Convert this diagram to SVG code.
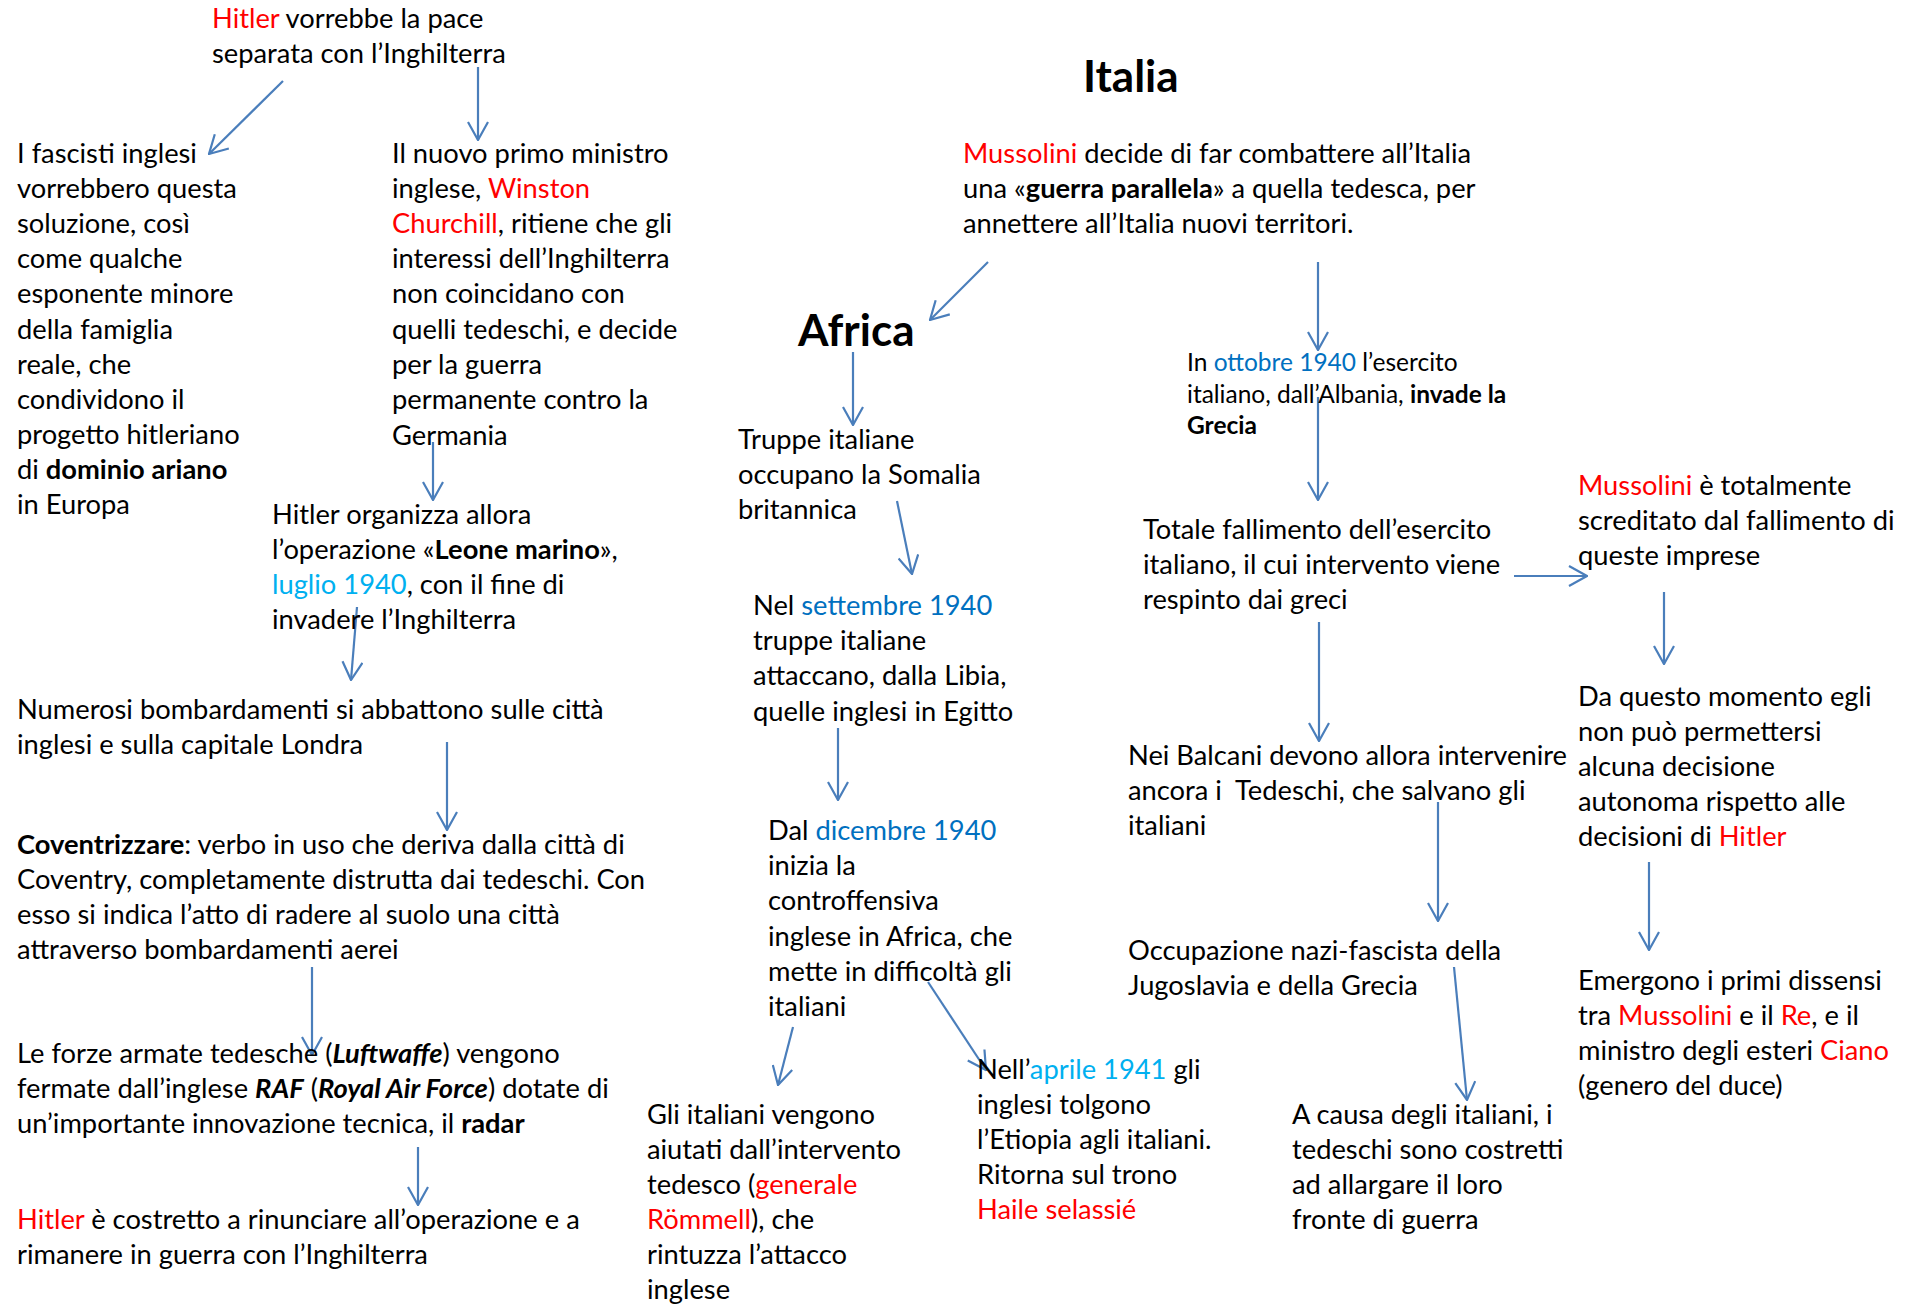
<svg xmlns="http://www.w3.org/2000/svg" width="1915" height="1304" viewBox="0 0 1915 1304">
<style>
text{font-family:Lato,"Liberation Sans",sans-serif;font-size:27.3px;fill:#000}
.s{font-size:24.5px}
.h{font-weight:bold;font-size:44px}
.r{fill:#FF0000}
.d1{fill:#0070C0}
.d2{fill:#00B0F0}
.b{font-weight:bold}
.bi{font-weight:bold;font-style:italic}
.c{stroke:#4A7EBB;stroke-width:2.2;fill:none;marker-end:url(#ah)}
</style>
<defs>
<marker id="ah" markerUnits="userSpaceOnUse" viewBox="0 0 20 22" refX="19" refY="11" markerWidth="20" markerHeight="22" orient="auto">
<path d="M1,1 L19,11 L1,21" fill="none" stroke="#4A7EBB" stroke-width="2.2"/>
</marker>
</defs>
<rect width="1915" height="1304" fill="#fff"/>
<g id="connectors">
<path class="c" d="M283,81 L209,154"/>
<path class="c" d="M478,67 L478,140"/>
<path class="c" d="M433,442 L433,500"/>
<path class="c" d="M357,607 L351,680"/>
<path class="c" d="M447,742 L447,830"/>
<path class="c" d="M312,967 L312,1055"/>
<path class="c" d="M418,1147 L418,1205"/>
<path class="c" d="M988,262 L930,320"/>
<path class="c" d="M1318,262 L1318,350"/>
<path class="c" d="M853,352 L853,425"/>
<path class="c" d="M1318,397 L1318,500"/>
<path class="c" d="M897,501 L912,574"/>
<path class="c" d="M838,728 L838,800"/>
<path class="c" d="M1319,622 L1319,741"/>
<path class="c" d="M1514,576 L1587,576"/>
<path class="c" d="M1664,592 L1664,664"/>
<path class="c" d="M1649,862 L1649,950"/>
<path class="c" d="M1438,802 L1438,921"/>
<path class="c" d="M1454,967 L1467,1100"/>
<path class="c" d="M793,1027 L778,1085"/>
<path class="c" d="M928,982 L986,1070"/>
</g>
<g id="n-hitler-pace">
<text x="212" y="28"><tspan class="r">Hitler</tspan> vorrebbe la pace</text>
<text x="212" y="63">separata con l’Inghilterra</text>
</g>
<g id="n-fascisti">
<text x="17" y="163">I fascisti inglesi</text>
<text x="17" y="198">vorrebbero questa</text>
<text x="17" y="233">soluzione, così</text>
<text x="17" y="268">come qualche</text>
<text x="17" y="303">esponente minore</text>
<text x="17" y="339">della famiglia</text>
<text x="17" y="374">reale, che</text>
<text x="17" y="409">condividono il</text>
<text x="17" y="444">progetto hitleriano</text>
<text x="17" y="479">di <tspan class="b">dominio ariano</tspan></text>
<text x="17" y="514">in Europa</text>
</g>
<g id="n-churchill">
<text x="392" y="163">Il nuovo primo ministro</text>
<text x="392" y="198">inglese, <tspan class="r">Winston</tspan></text>
<text x="392" y="233"><tspan class="r">Churchill</tspan>, ritiene che gli</text>
<text x="392" y="268">interessi dell’Inghilterra</text>
<text x="392" y="303">non coincidano con</text>
<text x="392" y="339">quelli tedeschi, e decide</text>
<text x="392" y="374">per la guerra</text>
<text x="392" y="409">permanente contro la</text>
<text x="392" y="445">Germania</text>
</g>
<g id="n-leone">
<text x="272" y="524">Hitler organizza allora</text>
<text x="272" y="559">l’operazione «<tspan class="b">Leone marino</tspan>»,</text>
<text x="272" y="594"><tspan class="d2">luglio 1940</tspan>, con il fine di</text>
<text x="272" y="629">invadere l’Inghilterra</text>
</g>
<g id="n-bombardamenti">
<text x="17" y="719">Numerosi bombardamenti si abbattono sulle città</text>
<text x="17" y="754">inglesi e sulla capitale Londra</text>
</g>
<g id="n-coventrizzare">
<text x="17" y="854"><tspan class="b">Coventrizzare</tspan>: verbo in uso che deriva dalla città di</text>
<text x="17" y="889">Coventry, completamente distrutta dai tedeschi. Con</text>
<text x="17" y="924">esso si indica l’atto di radere al suolo una città</text>
<text x="17" y="959">attraverso bombardamenti aerei</text>
</g>
<g id="n-raf">
<text x="17" y="1063">Le forze armate tedesche (<tspan class="bi">Luftwaffe</tspan>) vengono</text>
<text x="17" y="1098">fermate dall’inglese <tspan class="bi">RAF</tspan> (<tspan class="bi">Royal Air Force</tspan>) dotate di</text>
<text x="17" y="1133">un’importante innovazione tecnica, il <tspan class="b">radar</tspan></text>
</g>
<g id="n-rinuncia">
<text x="17" y="1229"><tspan class="r">Hitler</tspan> è costretto a rinunciare all’operazione e a</text>
<text x="17" y="1264">rimanere in guerra con l’Inghilterra</text>
</g>
<g id="n-italia">
<text class="h" x="1083" y="92">Italia</text>
</g>
<g id="n-mussolini">
<text x="963" y="163"><tspan class="r">Mussolini</tspan> decide di far combattere all’Italia</text>
<text x="963" y="198">una «<tspan class="b">guerra parallela</tspan>» a quella tedesca, per</text>
<text x="963" y="233">annettere all’Italia nuovi territori.</text>
</g>
<g id="n-africa">
<text class="h" x="798" y="346">Africa</text>
</g>
<g id="n-somalia">
<text x="738" y="449">Truppe italiane</text>
<text x="738" y="484">occupano la Somalia</text>
<text x="738" y="519">britannica</text>
</g>
<g id="n-settembre">
<text x="753" y="615">Nel <tspan class="d1">settembre 1940</tspan></text>
<text x="753" y="650">truppe italiane</text>
<text x="753" y="685">attaccano, dalla Libia,</text>
<text x="753" y="721">quelle inglesi in Egitto</text>
</g>
<g id="n-dicembre">
<text x="768" y="840">Dal <tspan class="d1">dicembre 1940</tspan></text>
<text x="768" y="875">inizia la</text>
<text x="768" y="910">controffensiva</text>
<text x="768" y="946">inglese in Africa, che</text>
<text x="768" y="981">mette in difficoltà gli</text>
<text x="768" y="1016">italiani</text>
</g>
<g id="n-rommel">
<text x="647" y="1124">Gli italiani vengono</text>
<text x="647" y="1159">aiutati dall’intervento</text>
<text x="647" y="1194">tedesco (<tspan class="r">generale</tspan></text>
<text x="647" y="1229"><tspan class="r">Römmell</tspan>), che</text>
<text x="647" y="1264">rintuzza l’attacco</text>
<text x="647" y="1299">inglese</text>
</g>
<g id="n-etiopia">
<text x="977" y="1079">Nell’<tspan class="d2">aprile 1941</tspan> gli</text>
<text x="977" y="1114">inglesi tolgono</text>
<text x="977" y="1149">l’Etiopia agli italiani.</text>
<text x="977" y="1184">Ritorna sul trono</text>
<text x="977" y="1219" class="r">Haile selassié</text>
</g>
<g id="n-grecia">
<text class="s" x="1187" y="371">In <tspan class="d1">ottobre 1940</tspan> l’esercito</text>
<text class="s" x="1187" y="403">italiano, dall’Albania, <tspan class="b">invade la</tspan></text>
<text class="s b" x="1187" y="434">Grecia</text>
</g>
<g id="n-fallimento">
<text x="1143" y="539">Totale fallimento dell’esercito</text>
<text x="1143" y="574">italiano, il cui intervento viene</text>
<text x="1143" y="609">respinto dai greci</text>
</g>
<g id="n-balcani">
<text x="1128" y="765">Nei Balcani devono allora intervenire</text>
<text x="1128" y="800" xml:space="preserve">ancora i  Tedeschi, che salvano gli</text>
<text x="1128" y="835">italiani</text>
</g>
<g id="n-occupazione">
<text x="1128" y="960">Occupazione nazi-fascista della</text>
<text x="1128" y="995">Jugoslavia e della Grecia</text>
</g>
<g id="n-fronte">
<text x="1292" y="1124">A causa degli italiani, i</text>
<text x="1292" y="1159">tedeschi sono costretti</text>
<text x="1292" y="1194">ad allargare il loro</text>
<text x="1292" y="1229">fronte di guerra</text>
</g>
<g id="n-screditato">
<text x="1578" y="495"><tspan class="r">Mussolini</tspan> è totalmente</text>
<text x="1578" y="530">screditato dal fallimento di</text>
<text x="1578" y="565">queste imprese</text>
</g>
<g id="n-autonoma">
<text x="1578" y="706">Da questo momento egli</text>
<text x="1578" y="741">non può permettersi</text>
<text x="1578" y="776">alcuna decisione</text>
<text x="1578" y="811">autonoma rispetto alle</text>
<text x="1578" y="846">decisioni di <tspan class="r">Hitler</tspan></text>
</g>
<g id="n-dissensi">
<text x="1578" y="990">Emergono i primi dissensi</text>
<text x="1578" y="1025">tra <tspan class="r">Mussolini</tspan> e il <tspan class="r">Re</tspan>, e il</text>
<text x="1578" y="1060">ministro degli esteri <tspan class="r">Ciano</tspan></text>
<text x="1578" y="1095">(genero del duce)</text>
</g>
</svg>
